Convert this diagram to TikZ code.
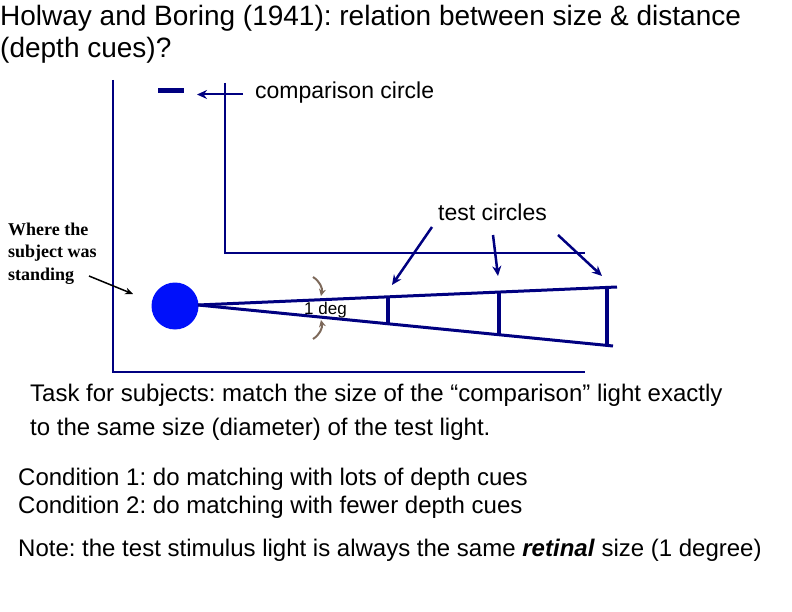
\documentclass[tikz,border=0pt]{standalone}
\usepackage{fontspec}
\setmainfont{Liberation Sans}
\newfontfamily\serifb{Liberation Serif}
\usetikzlibrary{arrows.meta}
\definecolor{navy}{RGB}{0,0,128}
\definecolor{arcbrown}{RGB}{125,105,90}
\definecolor{eyeblue}{RGB}{0,16,250}
\frenchspacing
\begin{document}
\begin{tikzpicture}[x=1pt,y=-1pt,
  txt/.style={anchor=base west,inner sep=0pt,font=\fontsize{24}{28}\selectfont},
  title/.style={anchor=base west,inner sep=0pt,font=\fontsize{28}{32}\selectfont},
  lbl/.style={anchor=base west,inner sep=0pt,font=\fontsize{23}{27}\selectfont},
  serlbl/.style={anchor=base west,inner sep=0pt,font=\serifb\bfseries\fontsize{18}{21}\selectfont},
  axisline/.style={draw=navy,line width=2pt},
  cone/.style={draw=navy,line width=3pt},
  bar/.style={draw=navy,line width=4.5pt},
  pointer/.style={draw=navy,line width=2.5pt,-{Stealth[length=10pt,width=9pt]}},
  arcarrow/.style={draw=arcbrown,line width=2pt,-{Stealth[length=7pt,width=7pt]}}]
\useasboundingbox (0,0) rectangle (792,612);

% title
\node[title] (t1) at (0,26) {Holway and Boring (1941): relation between size \& distance};
\node[title] (t2) at (0,58) {(depth cues)?};

% axes
\coordinate (o1) at (113,80);
\coordinate (o2) at (113,372);
\coordinate (o3) at (585,372);
\draw[axisline] (o1) -- (o2) -- (o3);
\coordinate (i1) at (225,83);
\coordinate (i2) at (225,253);
\coordinate (i3) at (585,253);
\draw[axisline] (i1) -- (i2) -- (i3);

% comparison circle
\coordinate (cb1) at (158,91);
\coordinate (cb2) at (184,91);
\draw[draw=navy,line width=5pt] (cb1) -- (cb2);
\node[lbl] (comp) at (255,99) {comparison circle};
\coordinate (ca1) at (243,94.5);
\coordinate (ca2) at (197,94.5);
\draw[pointer,line width=2pt] (ca1) -- (ca2);

% eye
\node[circle,fill=eyeblue,minimum size=47pt,inner sep=0pt] (eye) at (175,306) {};
\coordinate (apex) at (198,305);
\coordinate (up) at (617,287);
\coordinate (lo) at (613,346);
\draw[cone] (apex) -- (up);
\draw[cone] (apex) -- (lo);

% test bars
\coordinate (b1t) at (388,296); \coordinate (b1b) at (388,324);
\coordinate (b2t) at (499,291); \coordinate (b2b) at (499,335);
\coordinate (b3t) at (607,287); \coordinate (b3b) at (607,346);
\draw[bar] (b1t) -- (b1b);
\draw[bar] (b2t) -- (b2b);
\draw[bar] (b3t) -- (b3b);

% 1 deg
\node[anchor=base west,inner sep=0pt,font=\fontsize{17}{20}\selectfont] (deg) at (304,314) {1 deg};
\coordinate (a1s) at (313,277); \coordinate (a1e) at (321,296);
\coordinate (a2s) at (313,339); \coordinate (a2e) at (321,320);
\draw[arcarrow] (a1s) to[bend left=35] (a1e);
\draw[arcarrow] (a2s) to[bend right=35] (a2e);

% where the subject was standing
\node[serlbl] (w1) at (8,236) {Where the};
\node[serlbl] (w2) at (8,258) {subject was};
\node[serlbl] (w3) at (8,280) {standing};
\coordinate (wa1) at (89,276);
\coordinate (wa2) at (133,294);
\draw[black,line width=1.5pt,-{Stealth[length=8pt,width=7pt]}] (wa1) -- (wa2);

% test circles
\node[lbl] (tc) at (438,221) {test circles};
\coordinate (p1s) at (432,227); \coordinate (p1e) at (392,285);
\coordinate (p2s) at (493,235); \coordinate (p2e) at (498,276);
\coordinate (p3s) at (558,235); \coordinate (p3e) at (602,276);
\draw[pointer] (p1s) -- (p1e);
\draw[pointer] (p2s) -- (p2e);
\draw[pointer] (p3s) -- (p3e);

% texts
\node[txt] (task1) at (30,401) {Task for subjects: match the size of the “comparison” light exactly};
\node[txt] (task2) at (30,435) {to the same size (diameter) of the test light.};
\node[txt] (c1) at (18,485) {Condition 1: do matching with lots of depth cues};
\node[txt] (c2) at (18,513) {Condition 2: do matching with fewer depth cues};
\node[txt] (note) at (18,556) {Note: the test stimulus light is always the same \textbf{\textit{retinal}} size (1 degree)};
\end{tikzpicture}
\end{document}
